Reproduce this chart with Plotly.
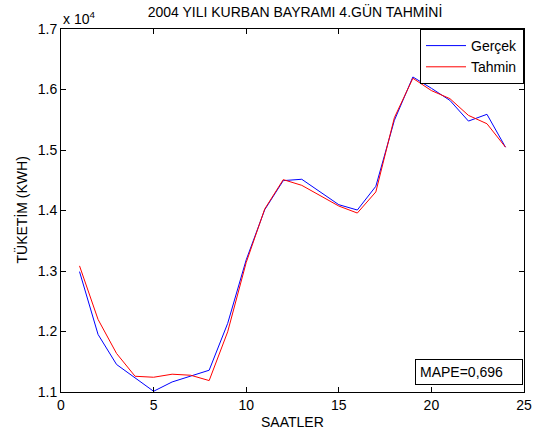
import plotly.graph_objects as go

hours = list(range(1, 25))
gercek = [12990, 11952, 11455, 11232, 11012, 11166, 11265, 11360, 12134, 13184, 14013, 14494,
          14516, 14307, 14096, 14008, 14400, 15490, 16207, 16020, 15820, 15478, 15590, 15047]
tahmin = [13085, 12200, 11637, 11260, 11244, 11294, 11277, 11189, 11995, 13140, 14025, 14510,
          14416, 14250, 14074, 13958, 14307, 15534, 16186, 15982, 15849, 15572, 15434, 15047]
x_ticks = [0, 5, 10, 15, 20, 25]
y_tickvals = [11000, 12000, 13000, 14000, 15000, 16000, 17000]
y_ticktext = ["1.1", "1.2", "1.3", "1.4", "1.5", "1.6", "1.7"]

FONT = "Liberation Sans, Arial, sans-serif"
FS = 14

fig = go.Figure()
fig.add_trace(go.Scatter(x=hours, y=gercek, mode="lines", name="Gerçek",
                         line=dict(color="#0000ff", width=1)))
fig.add_trace(go.Scatter(x=hours, y=tahmin, mode="lines", name="Tahmin",
                         line=dict(color="#ff0000", width=1)))

axis_common = dict(showgrid=False, zeroline=False, showline=True, linecolor="black",
                   linewidth=1, mirror="ticks", ticks="inside", ticklen=5,
                   tickcolor="black", automargin=False,
                   tickfont=dict(family=FONT, size=FS, color="black"))

fig.update_layout(
    width=538, height=435,
    margin=dict(l=61, r=14, t=29, b=43),
    paper_bgcolor="white", plot_bgcolor="white",
    font=dict(family=FONT, size=FS, color="black"),
    title=dict(text="2004 YILI KURBAN BAYRAMI 4.GÜN TAHMİNİ", x=295 / 538, xanchor="center",
               y=1 - 12.5 / 435, yanchor="middle", font=dict(family=FONT, size=FS, color="black")),
    xaxis=dict(range=[0, 25], tickvals=x_ticks, **axis_common),
    yaxis=dict(range=[11000, 17000], tickvals=y_tickvals, ticktext=y_ticktext, **axis_common),
    showlegend=True,
    legend=dict(x=1, y=1, xanchor="right", yanchor="top", bgcolor="white",
                bordercolor="black", borderwidth=1, font=dict(family=FONT, size=FS),
                tracegroupgap=0, itemwidth=40),
)

fig.add_annotation(xref="paper", yref="paper", x=0.5, y=0, xanchor="center", yanchor="middle",
                   text="SAATLER", showarrow=False, yshift=-30,
                   font=dict(family=FONT, size=FS, color="black"))
fig.add_annotation(xref="paper", yref="paper", x=0, y=0.5, xanchor="center", yanchor="middle",
                   text="TÜKETİM (KWH)", showarrow=False, xshift=-40, textangle=-90,
                   font=dict(family=FONT, size=FS, color="black"))
fig.add_annotation(xref="paper", yref="paper", x=0.0, y=1.0, xanchor="left", yanchor="bottom",
                   text="x 10<sup>4</sup>", showarrow=False, yshift=0,
                   font=dict(family=FONT, size=FS, color="black"))
fig.add_annotation(xref="paper", yref="paper", x=1.0, y=0.0, xanchor="right", yanchor="bottom",
                   text="MAPE=0,696", showarrow=False, yshift=7, xshift=-1, width=98, align="left",
                   bordercolor="black", borderwidth=1, borderpad=4, bgcolor="white",
                   font=dict(family=FONT, size=FS, color="black"))

fig.write_html("out.html")
